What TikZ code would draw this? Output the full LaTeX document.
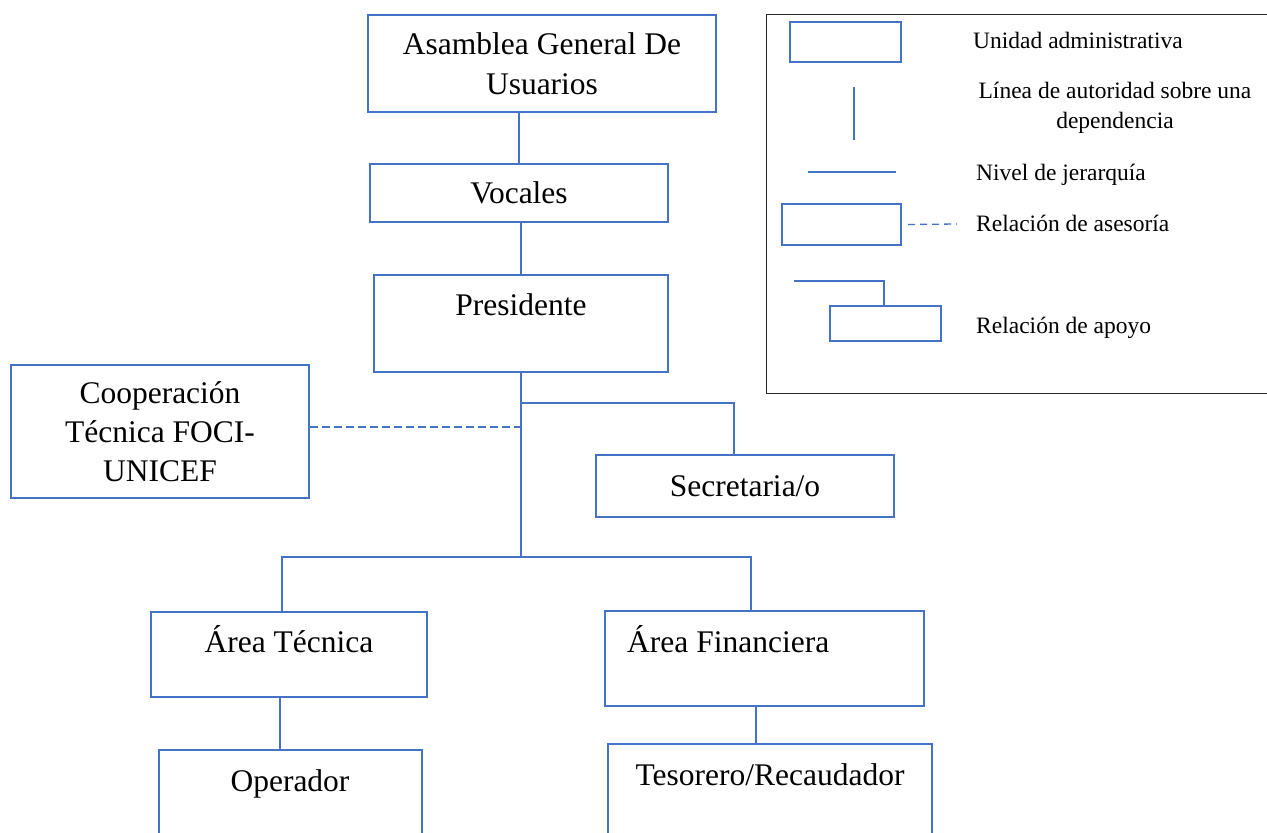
\documentclass[tikz,border=0pt]{standalone}
\usepackage{fontspec}
\setmainfont{Liberation Serif}
\definecolor{obl}{HTML}{4472C4}
\newcommand{\mainfs}{\fontsize{31.5}{39.5}\selectfont}
\newcommand{\legfs}{\fontsize{23.5}{30}\selectfont}
\tikzset{
  box/.style={draw=obl, line width=1.3pt, inner sep=0pt, align=center, font=\mainfs},
  txt/.style={inner sep=0pt, font=\mainfs, anchor=base},
  conn/.style={draw=obl, line width=1.3pt},
  adv/.style={conn, dash pattern=on 8pt off 4pt},
  legbox/.style={draw=obl, line width=2.4pt, inner sep=0pt},
  legtxt/.style={inner sep=0pt, font=\legfs, anchor=base west},
}
\begin{document}
\begin{tikzpicture}[x=1pt,y=-1pt]
\clip (0,0) rectangle (1267,833);
\useasboundingbox (0,0) rectangle (1267,833);

% main boxes
\node[box, minimum width=348, minimum height=97] (asam) at (542,63.5) {Asamblea General De\\Usuarios};
\node[box, minimum width=298, minimum height=58] (voc) at (519,193) {Vocales};
\node[box, minimum width=294, minimum height=97] (pres) at (521,323.5) {};
\node[txt] (presT) at (521,315) {Presidente};
\node[box, minimum width=298, minimum height=133, font=\fontsize{31.5}{39}\selectfont] (coop) at (160,431.5) {Cooperación\\Técnica FOCI-\\UNICEF};
\node[box, minimum width=298, minimum height=62] (sec) at (745,486) {Secretaria/o};
\node[box, minimum width=276, minimum height=85] (atec) at (289,654.5) {};
\node[txt] (atecT) at (289,652) {Área Técnica};
\node[box, minimum width=319, minimum height=95] (afin) at (764.5,658.5) {};
\node[txt, anchor=base west] (afinT) at (627,652) {Área Financiera};
\node[box, minimum width=263, minimum height=100] (oper) at (290.5,800) {};
\node[txt] (operT) at (290,791) {Operador};
\node[box, minimum width=324, minimum height=106] (teso) at (770,797) {};
\node[txt] (tesoT) at (770,785) {Tesorero/Recaudador};

% connectors
\coordinate (jb) at (pres.south |- 0,557);
\coordinate (jsec) at (pres.south |- 0,403);
\coordinate (jadv) at (pres.south |- 0,427);
\draw[conn] (voc.north) -- (voc.north |- asam.south);
\draw[conn] (pres.north) -- (pres.north |- voc.south);
\draw[conn] (pres.south) -- (jb);
\draw[conn] (jsec) -| ([xshift=-11pt]sec.north);
\draw[adv] ([yshift=4.5pt]coop.east) -- (jadv);
\draw[conn] ([xshift=-7pt]atec.north) |- (jb) -| ([xshift=-13.5pt]afin.north);
\draw[conn] ([xshift=-10.5pt]oper.north) -- ([xshift=-10.5pt]oper.north |- atec.south);
\draw[conn] ([xshift=-14pt]teso.north) -- ([xshift=-14pt]teso.north |- afin.south);

% legend
\node[draw=black!85, line width=1pt, minimum width=502, minimum height=379, inner sep=0pt] (leg) at (1017,203.5) {};
\node[legbox, minimum width=111, minimum height=40] (lb1) at (845.5,42) {};
\node[legtxt] (lt1) at (973,48) {Unidad administrativa};
\coordinate (la) at (854,87);
\coordinate (lb) at (854,140);
\draw[conn] (la) -- (lb);
\node[inner sep=0pt, font=\legfs, align=center] (lt2) at (1115,107.5) {Línea de autoridad sobre una\\dependencia};
\coordinate (lc) at (808,172);
\coordinate (ld) at (896,172);
\draw[conn] (lc) -- (ld);
\node[legtxt] (lt3) at (976,180) {Nivel de jerarquía};
\node[legbox, minimum width=119, minimum height=41] (lb2) at (841.5,224.5) {};
\coordinate (le) at (957,224);
\draw[adv, dash pattern=on 7pt off 5pt] ([xshift=6pt]lb2.east) -- (le);
\node[legtxt] (lt4) at (976,231) {Relación de asesoría};
\node[legbox, minimum width=111, minimum height=35] (lb3) at (885.5,323.5) {};
\coordinate (lf) at (794,281);
\draw[conn] (lf) -| ([xshift=-1.5pt]lb3.north);
\node[legtxt] (lt5) at (976,333) {Relación de apoyo};
\end{tikzpicture}
\end{document}
